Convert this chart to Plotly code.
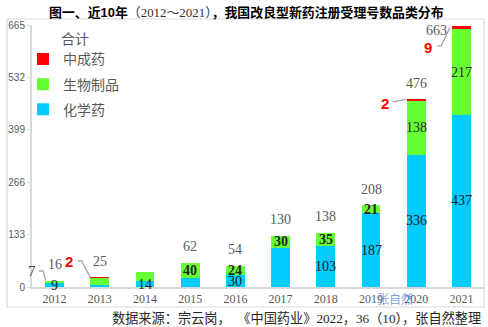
import plotly.graph_objects as go

years = [2012, 2013, 2014, 2015, 2016, 2017, 2018, 2019, 2020, 2021]
chem = [9, 4, 14, 22, 30, 100, 103, 187, 336, 437]
bio = [7, 19, 25, 40, 24, 30, 35, 21, 138, 217]
tcm = [0, 2, 0, 0, 0, 0, 0, 0, 2, 9]
show_total = [True, True, False, True, True, True, True, True, True, True]
show_chem = [True, False, True, False, True, False, True, True, True, True]
show_bio = [False, False, False, True, True, True, True, True, True, True]
y_ticks = [0, 133, 266, 399, 532, 665]
names = ["化学药", "生物制品", "中成药"]
colors = ["#00CCFF", "#66FF33", "#FF0000"]

totals = [a + b + c for a, b, c in zip(chem, bio, tcm)]
xs = list(range(len(years)))
n = len(years)

SERIF = "Liberation Serif, Noto Sans CJK SC"
SANS = "Liberation Sans, Noto Sans CJK SC"
GRAY = "#595959"
LINE = "#A6A6A6"


def xp(v):
    # data x -> paper x (range -0.5 .. n-0.5)
    return (v + 0.5) / n


fig = go.Figure()
for k, (vals, name, col) in enumerate(zip([chem, bio, tcm], names, colors)):
    fig.add_trace(go.Bar(x=xs, y=vals, name=name, width=0.42, legendgroup="g%d" % k,
                         legendrank=10 - k,
                         marker=dict(color=col, line=dict(width=0))))

ann = []
shapes = []
for i in xs:
    if show_chem[i]:
        ann.append(dict(x=i, y=chem[i] / 2, text=str(chem[i]), showarrow=False,
                        font=dict(family=SERIF, size=14, color="#1a1a1a")))
    if show_bio[i]:
        txt = str(bio[i]) if bio[i] > 40 else "<b>%d</b>" % bio[i]
        ann.append(dict(x=i, y=chem[i] + bio[i] / 2, text=txt, showarrow=False,
                        font=dict(family=SERIF, size=14, color="#262626")))
    if show_total[i] and i != n - 1:
        ann.append(dict(x=i, y=totals[i], yshift=16, text=str(totals[i]), showarrow=False,
                        font=dict(family=SERIF, size=14, color=GRAY)))

# total of the last year, beside the bar
ann.append(dict(xref="paper", x=xp(n - 1 - 0.56), y=totals[-1] - 13, text=str(totals[-1]),
                showarrow=False, xanchor="center", yanchor="middle",
                font=dict(family=SERIF, size=14, color=GRAY)))

callouts = [
    (0, str(bio[0]), dict(family=SERIF, size=15, color="#404040"),
     (-0.51, 40.6), [(-0.35, 40.6), (-0.25, 40.6), (-0.2, chem[0] + bio[0] / 2 + 4)]),
    (1, "<b>%d</b>" % tcm[1], dict(family=SANS, size=15, color="#FF0000"),
     (-0.69, 66), [(-0.49, 66), (-0.40, 66), (-0.215, totals[1])]),
    (8, "<b>%d</b>" % tcm[8], dict(family=SANS, size=15, color="#FF0000"),
     (-0.70, 467), [(-0.52, 470), (-0.22, totals[8])]),
    (9, "<b>%d</b>" % tcm[9], dict(family=SANS, size=15, color="#FF0000"),
     (-0.73, 609), [(-0.535, 612), (-0.447, 612), (-0.25, totals[9] - 4)]),
]
for i, txt, fnt, (dx, ty), pts in callouts:
    ann.append(dict(xref="paper", x=xp(i + dx), y=ty, text=txt, showarrow=False,
                    xanchor="center", yanchor="middle", font=fnt))
    path = "M" + " L".join("%f,%f" % (i + px, py) for px, py in pts)
    shapes.append(dict(type="path", xref="x", yref="y", path=path,
                       line=dict(color=LINE, width=1.3)))

# outer frame
shapes.append(dict(type="rect", xref="paper", yref="paper",
                   x0=-0.0553, x1=1.0, y0=-0.0763, y1=1.0229,
                   line=dict(color="#D9D9D9", width=1.2), layer="below"))

ann.append(dict(xref="paper", yref="paper", x=0.474, y=1.0496, xanchor="center", yanchor="middle",
                showarrow=False,
                text="<b>图一、近10年</b><span style='font-family:Liberation Serif, Noto Sans CJK SC;font-weight:normal;color:#333'>（2012～2021）</span><b>，我国改良型新药注册受理号数品类分布</b>",
                font=dict(family=SANS, size=12.9, color="#000000")))
ann.append(dict(xref="paper", yref="paper", x=0.06, y=0.950, xanchor="left", yanchor="middle",
                showarrow=False, text="合计",
                font=dict(family="Noto Sans CJK SC", size=14, color=GRAY)))
ann.append(dict(xref="paper", yref="paper", x=0.998, y=-0.118, xanchor="right",
                yanchor="middle", showarrow=False,
                text="数据来源：宗云岗，  《中国药业》2022，36（10），张自然整理",
                font=dict(family=SERIF, size=13.2, color="#262626")))
ann.append(dict(xref="paper", yref="paper", x=0.803, y=-0.042, xanchor="center", yanchor="middle",
                showarrow=False, text="张自然",
                font=dict(family="Noto Sans CJK SC", size=12, color="rgba(70,130,220,0.75)")))

fig.update_layout(
    width=488, height=327,
    margin=dict(l=32, r=4, t=25, b=40),
    paper_bgcolor="white", plot_bgcolor="white",
    barmode="stack",
    showlegend=True,
    legend=dict(x=-0.02, y=0.93, xanchor="left", yanchor="top",
                traceorder="grouped", tracegroupgap=4, bgcolor="rgba(0,0,0,0)",
                font=dict(family="Noto Sans CJK SC", size=14, color=GRAY),
                itemclick=False),
    xaxis=dict(range=[-0.5, n - 0.5], tickvals=xs, ticktext=[str(y) for y in years],
               showgrid=False, zeroline=False, showline=True, linecolor="#D9D9D9",
               linewidth=2, ticks="", fixedrange=True,
               tickfont=dict(family=SERIF, size=12, color=GRAY)),
    yaxis=dict(range=[0, 665], tickvals=y_ticks, showgrid=False, zeroline=False,
               showline=True, linecolor="#D9D9D9", linewidth=2,
               ticks="outside", ticklen=3, tickcolor="#D9D9D9",
               tickfont=dict(family=SANS, size=10, color=GRAY)),
    annotations=ann, shapes=shapes,
)

fig.write_html("out.html")
